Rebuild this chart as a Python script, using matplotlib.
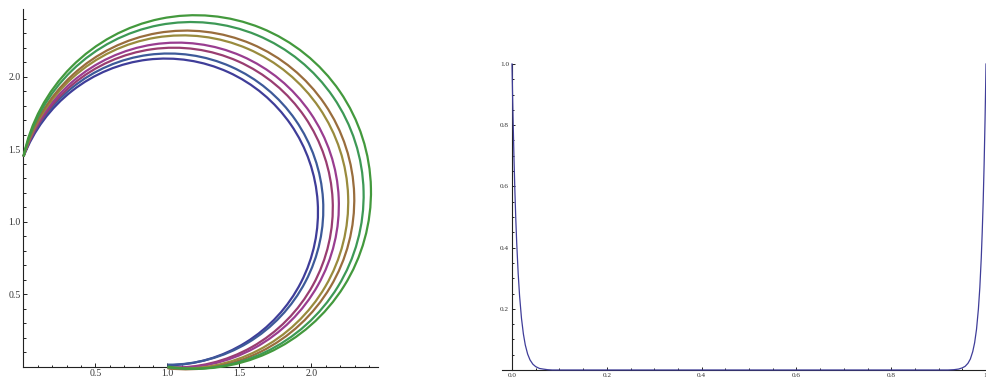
import numpy as np
import matplotlib.pyplot as plt
from matplotlib.patches import Arc
from matplotlib.ticker import FixedLocator

# ---- left panel: eight arcs (centre, radius, start/end angle)
arc_cx = [0.987, 1.009, 1.045, 1.069, 1.106, 1.129, 1.166, 1.194]
arc_cy = [1.067, 1.087, 1.097, 1.114, 1.136, 1.150, 1.181, 1.205]
arc_r = [1.058, 1.073, 1.103, 1.121, 1.149, 1.168, 1.196, 1.219]
arc_t1 = [-89.3, -90.5, -92.3, -93.5, -95.3, -96.3, -98.0, -99.1]
arc_t2 = [158.8, 160.2, 161.3, 162.6, 164.1, 165.1, 167.0, 168.4]
arc_colors = ['#3F3D99', '#3D5A99', '#993D71', '#993D90',
              '#998B3D', '#996D3D', '#3D9956', '#43993D']

# ---- right panel: one curve, read point by point
dec_x = [0.000, 0.001, 0.002, 0.004, 0.006, 0.008, 0.010, 0.013, 0.016, 0.020, 0.024,
         0.028, 0.033, 0.038, 0.044, 0.050, 0.058, 0.066, 0.075, 0.085, 0.100]
dec_y = [1.000, 0.916, 0.839, 0.703, 0.589, 0.493, 0.413, 0.316, 0.242, 0.169, 0.118,
         0.082, 0.052, 0.033, 0.019, 0.011, 0.005, 0.003, 0.001, 0.000, 0.000]
rise_x = [0.900, 0.920, 0.932, 0.942, 0.950, 0.956, 0.962, 0.967, 0.972, 0.976,
          0.980, 0.984, 0.987, 0.990, 0.992, 0.994, 0.996, 0.998, 0.999, 1.000]
rise_y = [0.000, 0.000, 0.001, 0.003, 0.007, 0.012, 0.022, 0.036, 0.060, 0.089,
          0.133, 0.200, 0.270, 0.366, 0.449, 0.547, 0.670, 0.818, 0.905, 1.000]

left_xticks = [0.5, 1.0, 1.5, 2.0]
left_yticks = [0.5, 1.0, 1.5, 2.0]
right_xticks = [0.0, 0.2, 0.4, 0.6, 0.8, 1.0]
right_yticks = [0.2, 0.4, 0.6, 0.8, 1.0]

plt.rcParams['font.family'] = ['Liberation Serif', 'DejaVu Serif']
W, H = 987, 377
fig = plt.figure(figsize=(W / 100, H / 100), dpi=100)
AX_COL = '#222222'
TXT_COL = '#333333'


def style_axes(ax, xb, yb, fs, maj, mnr, step):
    for s in ['top', 'right']:
        ax.spines[s].set_visible(False)
    for s in ['left', 'bottom']:
        ax.spines[s].set_position(('data', 0))
        ax.spines[s].set_linewidth(0.8)
        ax.spines[s].set_color(AX_COL)
    ax.spines['bottom'].set_bounds(*xb)
    ax.spines['left'].set_bounds(*yb)
    # minor ticks only inside the drawn axis lines
    ax.xaxis.set_minor_locator(FixedLocator(np.arange(0, xb[1] + 1e-9, step)))
    ax.yaxis.set_minor_locator(FixedLocator(np.arange(0, yb[1] + 1e-9, step)))
    ax.tick_params(which='both', direction='in', color=AX_COL, width=0.7,
                   labelsize=fs, labelcolor=TXT_COL, pad=2)
    ax.tick_params(which='major', length=maj)
    ax.tick_params(which='minor', length=mnr)
    ax.patch.set_visible(False)


# left axes: x=0 at px 23.5, 144 px/unit; y=0 at px 366.7, 145 px/unit
axl = fig.add_axes([5 / W, 0, 380 / W, 374 / H])
axl.set_xlim((5 - 23.5) / 144, (385 - 23.5) / 144)
axl.set_ylim((366.7 - 377) / 145, (366.7 - 3) / 145)
for cx, cy, r, t1, t2, c in zip(arc_cx, arc_cy, arc_r, arc_t1, arc_t2, arc_colors):
    axl.add_patch(Arc((cx, cy), 2 * r, 2 * r, theta1=t1, theta2=t2,
                      color=c, lw=1.6, zorder=3))
style_axes(axl, (0, 2.46), (0, 2.47), 7, 3.0, 1.8, 0.1)
axl.xaxis.set_major_locator(FixedLocator(left_xticks))
axl.yaxis.set_major_locator(FixedLocator(left_yticks))
axl.set_xticklabels([f'{v:.1f}' for v in left_xticks])
axl.set_yticklabels([f'{v:.1f}' for v in left_yticks])

# right axes: x=0 at px 512, 474 px/unit; y=0 at px 370, 306 px/unit
axr = fig.add_axes([470 / W, 0, 517 / W, 337 / H])
axr.set_xlim((470 - 512) / 474, (987 - 512) / 474)
axr.set_ylim((370 - 377) / 306, (370 - 40) / 306)
curve_x = dec_x + rise_x
curve_y = dec_y + rise_y
axr.plot(curve_x, curve_y, color='#3F3D99', lw=0.9, clip_on=False, zorder=3)
style_axes(axr, (-0.0215, 1.0), (0, 1.0), 5.2, 2.2, 1.4, 0.05)
axr.xaxis.set_major_locator(FixedLocator(right_xticks))
axr.yaxis.set_major_locator(FixedLocator(right_yticks))
axr.set_xticklabels([f'{v:.1f}' for v in right_xticks[:-1]] + ['1.'])
axr.set_yticklabels([f'{v:.1f}' for v in right_yticks])

fig.savefig('out.png', dpi=100)
